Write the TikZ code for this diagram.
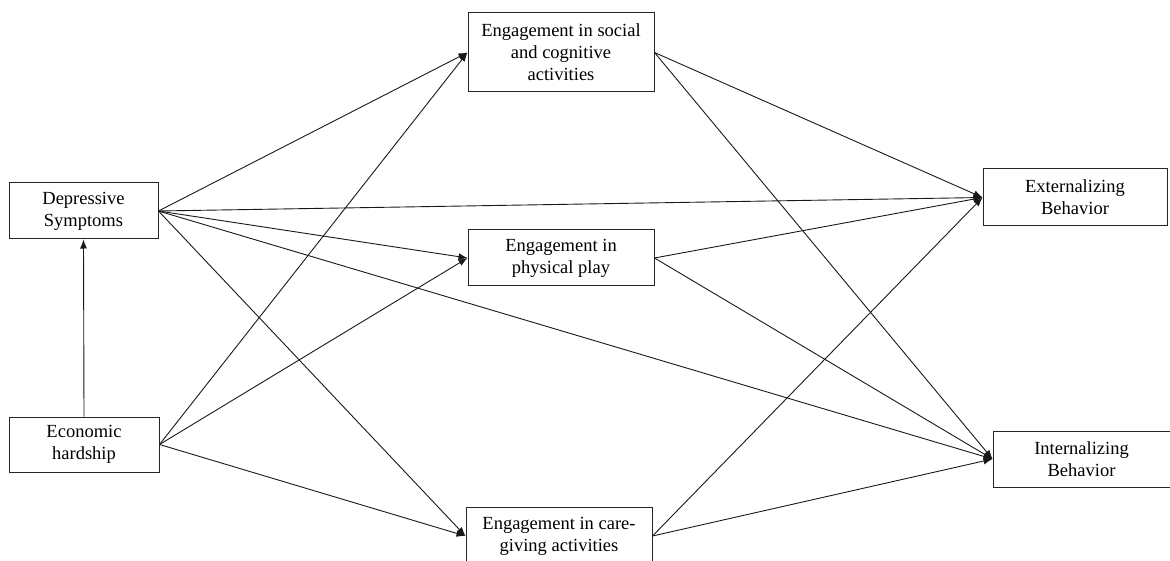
\documentclass[tikz,border=0pt]{standalone}
\usepackage{fontspec}
\setmainfont{Liberation Serif}
\usetikzlibrary{arrows.meta}
\begin{document}
\begin{tikzpicture}[x=1pt,y=-1pt,
  box/.style={draw=black!85, line width=1pt, fill=white, align=center, inner sep=0pt,
    font=\fontsize{18.5}{22}\selectfont},
  path/.style={draw=black!90, line width=0.9pt, -{Latex[length=9pt,width=7pt]}}]
\useasboundingbox (0,0) rectangle (1170,561);
% variables
\node[box, minimum width=149pt, minimum height=56pt] (ds) at (83.5,211) {Depressive\\Symptoms};
\node[box, minimum width=150pt, minimum height=55pt] (eh) at (84,444.5) {Economic\\hardship};
\node[box, minimum width=186pt, minimum height=79pt] (soc) at (561,52.5) {Engagement in social\\and cognitive\\activities};
\node[box, minimum width=186pt, minimum height=56pt] (phy) at (561,258) {Engagement in\\physical play};
\node[box, minimum width=186pt, minimum height=58pt] (care) at (559,536) {Engagement in care-\\giving activities};
\node[box, minimum width=184pt, minimum height=57pt] (ext) at (1075,197.5) {Externalizing\\Behavior};
\node[box, minimum width=177pt, minimum height=56pt] (int) at (1081.5,459) {Internalizing\\Behavior};
% paths
\draw[path] (eh.north) -- (ds.south);
\draw[path] (ds.east) -- (soc.west);
\draw[path] (ds.east) -- (phy.west);
\draw[path] (ds.east) -- (care.west);
\draw[path] (ds.east) -- (ext.west);
\draw[path] (ds.east) -- (int.west);
\draw[path] (eh.east) -- (soc.west);
\draw[path] (eh.east) -- (phy.west);
\draw[path] (eh.east) -- (care.west);
\draw[path] (soc.east) -- (ext.west);
\draw[path] (soc.east) -- (int.west);
\draw[path] (phy.east) -- (ext.west);
\draw[path] (phy.east) -- (int.west);
\draw[path] (care.east) -- (ext.west);
\draw[path] (care.east) -- (int.west);
\end{tikzpicture}
\end{document}
